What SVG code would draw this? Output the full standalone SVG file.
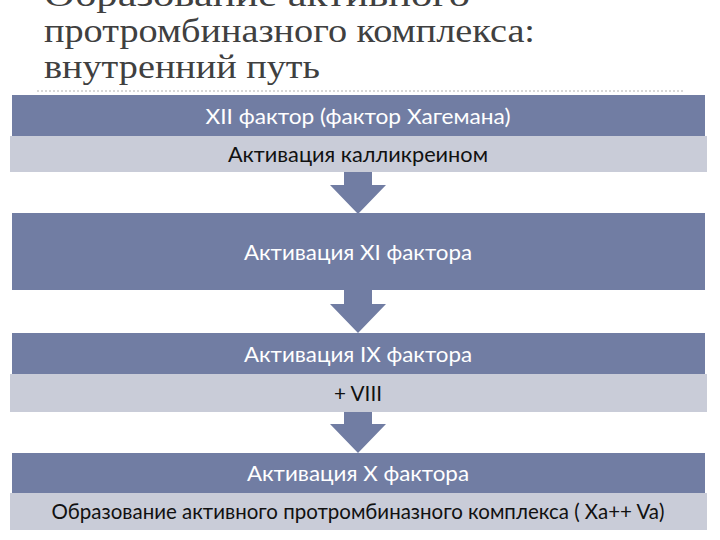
<svg xmlns="http://www.w3.org/2000/svg" width="720" height="540" viewBox="0 0 720 540">
<style>
.title{font-family:"Liberation Serif","DejaVu Serif",serif;font-size:34px;fill:#404040}
.dark{fill:#717DA3}
.light{fill:#C9CCD8}
.wt{font-family:Lato,"Open Sans",sans-serif;font-size:22px;fill:#ffffff;text-anchor:middle}
.bt{font-family:Lato,"Open Sans",sans-serif;font-size:22px;fill:#111111;text-anchor:middle}
.arrow{fill:#717DA3}
</style>
<rect width="720" height="540" fill="#ffffff"/>
<g id="title">
<text class="title" x="44" y="6" textLength="426" lengthAdjust="spacingAndGlyphs">Образование активного</text>
<text class="title" x="44" y="42" textLength="491" lengthAdjust="spacingAndGlyphs">протромбиназного комплекса:</text>
<text class="title" x="44" y="78" textLength="276" lengthAdjust="spacingAndGlyphs">внутренний путь</text>
<line x1="37" y1="91" x2="685" y2="91" stroke="#cccccc" stroke-width="1.5" stroke-dasharray="2,2"/>
</g>
<g id="connectors">
<polygon class="arrow" points="344,172 372,172 372,185 386,185 358,214 330,185 344,185"/>
<polygon class="arrow" points="344,290 372,290 372,304 386,304 358,333 330,304 344,304"/>
<polygon class="arrow" points="344,412 372,412 372,424 386,424 358,453 330,424 344,424"/>
</g>
<g id="node1">
<rect class="dark" x="12" y="95" width="693" height="41"/>
<rect class="light" x="10" y="136" width="697" height="36"/>
<text class="wt" x="358" y="124" textLength="305" lengthAdjust="spacingAndGlyphs">XII фактор (фактор Хагемана)</text>
<text class="bt" x="358" y="162" textLength="260" lengthAdjust="spacingAndGlyphs">Активация калликреином</text>
</g>
<g id="node2">
<rect class="dark" x="12" y="213" width="693" height="77"/>
<text class="wt" x="358" y="260" textLength="228" lengthAdjust="spacingAndGlyphs">Активация XI фактора</text>
</g>
<g id="node3">
<rect class="dark" x="12" y="333" width="693" height="41"/>
<rect class="light" x="10" y="374" width="697" height="38"/>
<text class="wt" x="358" y="362" textLength="228" lengthAdjust="spacingAndGlyphs">Активация IX фактора</text>
<text class="bt" x="358" y="401" textLength="48" lengthAdjust="spacingAndGlyphs">+ VIII</text>
</g>
<g id="node4">
<rect class="dark" x="12" y="453" width="693" height="40"/>
<rect class="light" x="10" y="493" width="697" height="37"/>
<text class="wt" x="358" y="481" textLength="222" lengthAdjust="spacingAndGlyphs">Активация X фактора</text>
<text class="bt" x="358" y="519" font-size="21" textLength="613" lengthAdjust="spacingAndGlyphs">Образование активного протромбиназного комплекса ( Xa++ Va)</text>
</g>
</svg>
